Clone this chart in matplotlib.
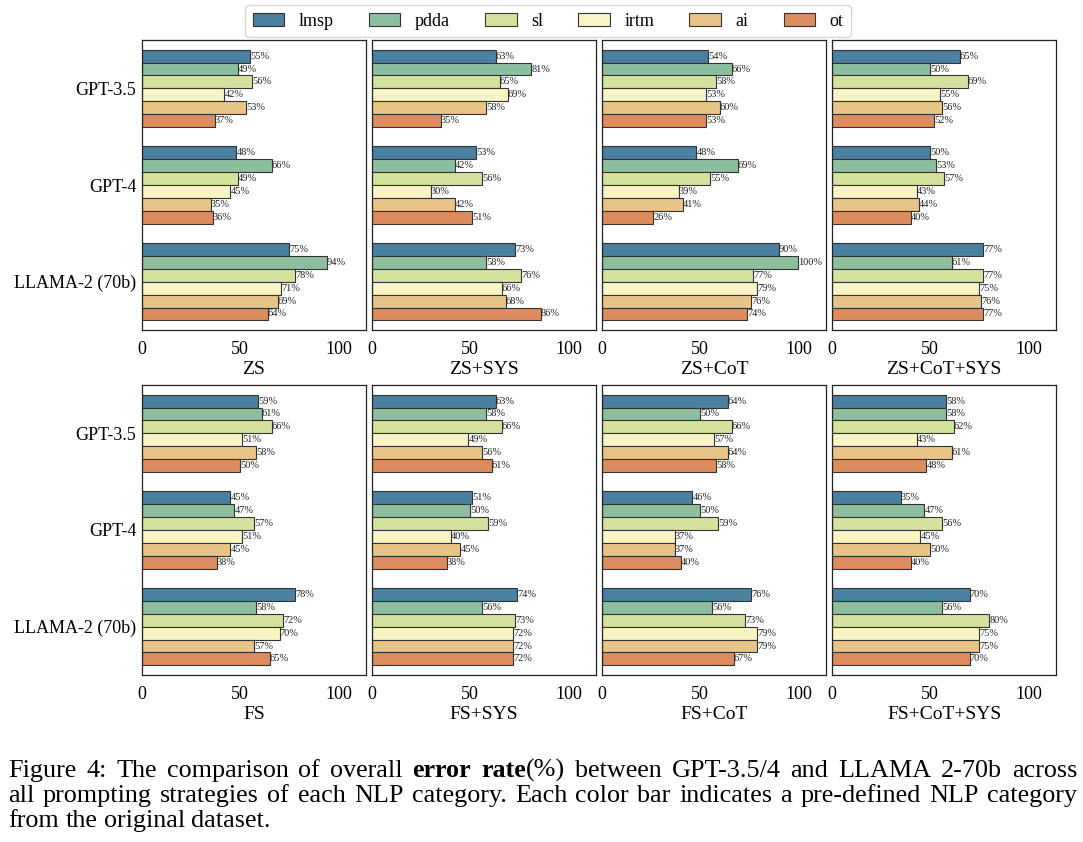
import matplotlib
matplotlib.use('Agg')
import matplotlib.pyplot as plt
import numpy as np

plt.rcParams['font.family'] = ['Liberation Serif', 'DejaVu Serif']

models = ['GPT-3.5', 'GPT-4', 'LLAMA-2 (70b)']
categories = ['lmsp', 'pdda', 'sl', 'irtm', 'ai', 'ot']
colors = ['#4a80a0', '#8dbf9f', '#d4e29d', '#f8f4c6', '#e8c486', '#dc8c5e']

strategies = ['ZS', 'ZS+SYS', 'ZS+CoT', 'ZS+CoT+SYS',
              'FS', 'FS+SYS', 'FS+CoT', 'FS+CoT+SYS']

# rows: models, columns: categories (error rate %)
zs = [[55, 49, 56, 42, 53, 37], [48, 66, 49, 45, 35, 36], [75, 94, 78, 71, 69, 64]]
zs_sys = [[63, 81, 65, 69, 58, 35], [53, 42, 56, 30, 42, 51], [73, 58, 76, 66, 68, 86]]
zs_cot = [[54, 66, 58, 53, 60, 53], [48, 69, 55, 39, 41, 26], [90, 100, 77, 79, 76, 74]]
zs_cot_sys = [[65, 50, 69, 55, 56, 52], [50, 53, 57, 43, 44, 40], [77, 61, 77, 75, 76, 77]]
fs = [[59, 61, 66, 51, 58, 50], [45, 47, 57, 51, 45, 38], [78, 58, 72, 70, 57, 65]]
fs_sys = [[63, 58, 66, 49, 56, 61], [51, 50, 59, 40, 45, 38], [74, 56, 73, 72, 72, 72]]
fs_cot = [[64, 50, 66, 57, 64, 58], [46, 50, 59, 37, 37, 40], [76, 56, 73, 79, 79, 67]]
fs_cot_sys = [[58, 58, 62, 43, 61, 48], [35, 47, 56, 45, 50, 40], [70, 56, 80, 75, 75, 70]]

panels = [zs, zs_sys, zs_cot, zs_cot_sys, fs, fs_sys, fs_cot, fs_cot_sys]

# caption lines: words made of (text, weight) pieces
caption = [
    [[('Figure', 'normal')], [('4:', 'normal')], [('The', 'normal')],
     [('comparison', 'normal')], [('of', 'normal')], [('overall', 'normal')],
     [('error', 'bold')], [('rate', 'bold'), ('(%)', 'normal')],
     [('between', 'normal')], [('GPT-3.5/4', 'normal')], [('and', 'normal')],
     [('LLAMA', 'normal')], [('2-70b', 'normal')], [('across', 'normal')]],
    [[(w, 'normal')] for w in 'all prompting strategies of each NLP category. '
     'Each color bar indicates a pre-defined NLP category'.split()],
    [[(w, 'normal')] for w in 'from the original dataset.'.split()],
]

fig = plt.figure(figsize=(10.83, 8.42), dpi=100)

left0, width, step = 0.1311, 0.2068, 0.2124
row_bottoms = [0.608, 0.1983]
height = 0.3445

y = np.arange(len(models))
n = len(categories)
bh = 0.8 / n

for i, (name, data) in enumerate(zip(strategies, panels)):
    r, c = divmod(i, 4)
    ax = fig.add_axes([left0 + c * step, row_bottoms[r], width, height])
    data = np.array(data)
    for j in range(n):
        pos = y - 0.4 + bh * (j + 0.5)
        bars = ax.barh(pos, data[:, j], height=bh, color=colors[j],
                       edgecolor='#333333', linewidth=0.8, label=categories[j])
        for b, v in zip(bars, data[:, j]):
            ax.text(b.get_width(), b.get_y() + b.get_height() / 2, f'{v}%',
                    va='center', ha='left', fontsize=7.5, color='#222222')
    ax.set_xlim(0, 114)
    ax.set_ylim(2.5, -0.5)
    ax.set_xticks([0, 50, 100])
    ax.tick_params(axis='x', length=0, labelsize=13, pad=8)
    ax.tick_params(axis='y', length=0, labelsize=13, pad=4)
    ax.set_xlabel(name, fontsize=14, labelpad=2)
    if c == 0:
        ax.set_yticks(y)
        ax.set_yticklabels(models)
    else:
        ax.set_yticks([])
    for s in ax.spines.values():
        s.set_color('#222222')
        s.set_linewidth(0.9)
    if i == 0:
        handles, labels = ax.get_legend_handles_labels()

fig.legend(handles, labels, loc='upper center', bbox_to_anchor=(0.506, 1.0),
           ncol=6, fontsize=13, handlelength=1.75, columnspacing=1.95,
           handletextpad=0.8, borderaxespad=0.3, frameon=True,
           edgecolor='#cccccc', fancybox=True)

# caption, justified like the paper text
renderer = fig.canvas.get_renderer()
W = fig.bbox.width
x0, x1 = 8, 1077
cap_size = 18.8
tmp = fig.text(0, 0, 'a a', fontsize=cap_size)
tmp2 = fig.text(0, 0, 'aa', fontsize=cap_size)
space_w = tmp.get_window_extent(renderer).width - tmp2.get_window_extent(renderer).width
tmp.remove()
tmp2.remove()

for k, (line, yb) in enumerate(zip(caption, [0.0772, 0.0475, 0.0178])):
    words = []
    for word in line:
        pieces = []
        for txt, wt in word:
            t = fig.text(0, yb, txt, fontsize=cap_size, fontweight=wt, va='baseline')
            pieces.append((t, t.get_window_extent(renderer).width))
        words.append(pieces)
    widths = [sum(p[1] for p in wd) for wd in words]
    if k < len(caption) - 1:
        gap = (x1 - x0 - sum(widths)) / (len(words) - 1)
    else:
        gap = space_w
    x = x0
    for pieces in words:
        for t, w in pieces:
            t.set_x(x / W)
            x += w
        x += gap

fig.savefig('out.png', dpi=100)
